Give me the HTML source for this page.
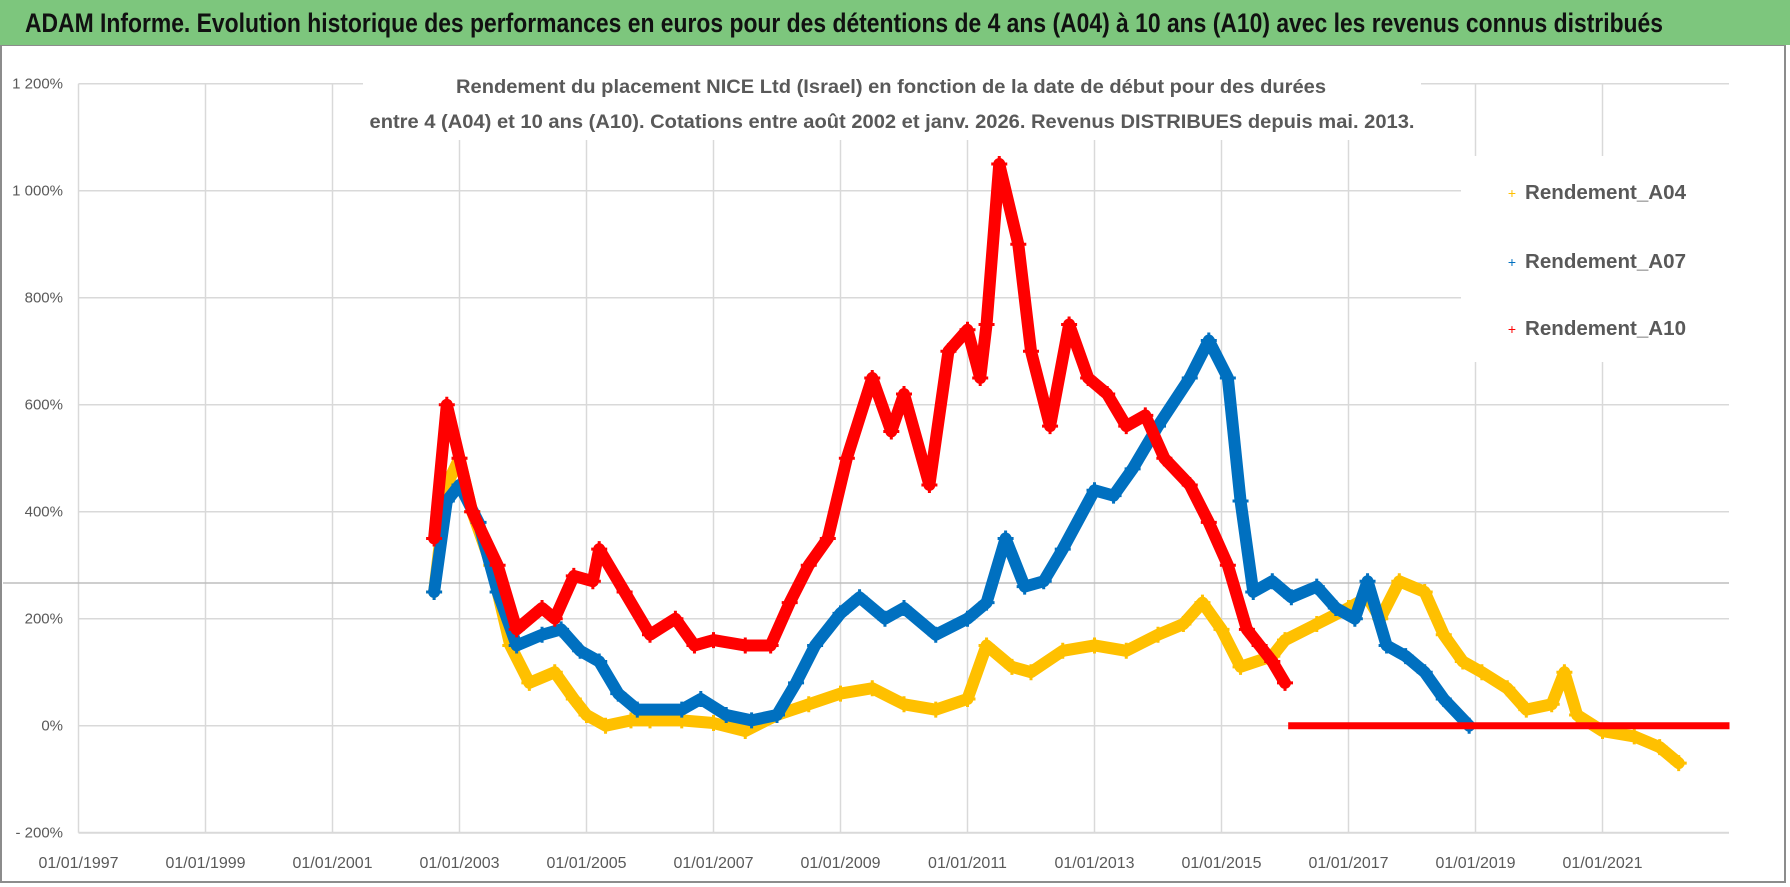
<!DOCTYPE html>
<html><head><meta charset="utf-8"><style>
html,body{margin:0;padding:0;background:#fff;}
svg{display:block;font-family:"Liberation Sans",sans-serif;}
</style></head><body>
<svg id="chart" width="1790" height="887" viewBox="0 0 1790 887" xmlns="http://www.w3.org/2000/svg">
<rect x="0" y="0" width="1790" height="887" fill="#fff"/>
<rect x="1" y="45" width="1784" height="837" fill="#fff" stroke="#8c8c8c" stroke-width="2"/>
<rect x="0" y="0" width="1790" height="45" fill="#7dc67d"/>
<text x="25" y="32" font-size="27" font-weight="bold" fill="#111" textLength="1638" lengthAdjust="spacingAndGlyphs">ADAM Informe. Evolution historique des performances en euros pour des détentions de 4 ans (A04) à 10 ans (A10) avec les revenus connus distribués</text>
<g id="grid"></g>
<line x1="3" y1="583" x2="1729" y2="583" stroke="#bdbdbd" stroke-width="1.5"/>
<g id="yticks"></g>
<g id="xticks"></g>
<rect x="363" y="70" width="1058" height="70" fill="#fff"/>
<text x="891" y="93" font-size="19" font-weight="bold" fill="#595959" text-anchor="middle" textLength="870" lengthAdjust="spacingAndGlyphs">Rendement du placement NICE Ltd (Israel) en fonction de la date de début pour des durées</text>
<text x="892" y="128" font-size="19" font-weight="bold" fill="#595959" text-anchor="middle" textLength="1045" lengthAdjust="spacingAndGlyphs">entre 4 (A04) et 10 ans (A10). Cotations entre août 2002 et janv. 2026. Revenus DISTRIBUES depuis mai. 2013.</text>
<g id="series"></g>
<rect x="1461" y="156" width="268" height="206" fill="#fff"/>
<g>
<text x="1512" y="198" font-size="14" fill="#ffc000" text-anchor="middle">+</text>
<text x="1525" y="199" font-size="20" font-weight="bold" fill="#595959" textLength="161" lengthAdjust="spacingAndGlyphs">Rendement_A04</text></g>
<g>
<text x="1512" y="267" font-size="14" fill="#0070c0" text-anchor="middle">+</text>
<text x="1525" y="268" font-size="20" font-weight="bold" fill="#595959" textLength="161" lengthAdjust="spacingAndGlyphs">Rendement_A07</text></g>
<g>
<text x="1512" y="334" font-size="14" fill="#ff0000" text-anchor="middle">+</text>
<text x="1525" y="335" font-size="20" font-weight="bold" fill="#595959" textLength="161" lengthAdjust="spacingAndGlyphs">Rendement_A10</text></g>
</svg>
<script>
const yTicks=[1200,1000,800,600,400,200,0,-200];
const yTickLabels=["1 200%","1 000%","800%","600%","400%","200%","0%","- 200%"];
const xTicks=[1997,1999,2001,2003,2005,2007,2009,2011,2013,2015,2017,2019,2021];
const xTickLabels=["01/01/1997","01/01/1999","01/01/2001","01/01/2003","01/01/2005","01/01/2007","01/01/2009","01/01/2011","01/01/2013","01/01/2015","01/01/2017","01/01/2019","01/01/2021"];
const a04Dates=[2002.6,2002.8,2003.0,2003.2,2003.5,2003.8,2004.1,2004.5,2004.8,2005.0,2005.3,2005.7,2006.0,2006.5,2007.0,2007.5,2008.0,2008.5,2009.0,2009.5,2010.0,2010.5,2011.0,2011.3,2011.7,2012.0,2012.5,2013.0,2013.5,2014.0,2014.4,2014.7,2015.0,2015.3,2015.8,2016.0,2016.5,2017.0,2017.3,2017.5,2017.8,2018.2,2018.5,2018.8,2019.1,2019.5,2019.8,2020.2,2020.4,2020.6,2021.0,2021.5,2021.9,2022.2];
const a04Values=[250,450,500,400,300,150,80,100,50,20,0,10,10,10,5,-10,20,40,60,70,40,30,50,150,110,100,140,150,140,170,190,230,180,110,130,160,190,220,240,200,270,250,170,120,100,70,30,40,100,20,-10,-20,-40,-70];
const a07Dates=[2002.6,2002.8,2003.0,2003.3,2003.6,2003.9,2004.3,2004.6,2004.9,2005.2,2005.5,2005.8,2006.5,2006.8,2007.2,2007.6,2008.0,2008.3,2008.6,2009.0,2009.3,2009.7,2010.0,2010.5,2011.0,2011.3,2011.6,2011.9,2012.2,2012.5,2013.0,2013.3,2013.6,2014.0,2014.5,2014.8,2015.1,2015.3,2015.5,2015.8,2016.1,2016.5,2016.8,2017.1,2017.3,2017.6,2017.9,2018.2,2018.5,2018.9];
const a07Values=[250,420,450,380,250,150,170,180,140,120,60,30,30,50,20,10,20,80,150,210,240,200,220,170,200,230,350,260,270,330,440,430,480,560,650,720,650,420,250,270,240,260,220,200,270,150,130,100,50,0];
const a10Dates=[2002.6,2002.8,2003.0,2003.2,2003.6,2003.9,2004.3,2004.5,2004.8,2005.1,2005.2,2005.6,2006.0,2006.4,2006.7,2007.0,2007.5,2007.9,2008.2,2008.5,2008.8,2009.1,2009.5,2009.8,2010.0,2010.4,2010.7,2011.0,2011.2,2011.3,2011.5,2011.8,2012.0,2012.3,2012.6,2012.9,2013.2,2013.5,2013.8,2014.1,2014.5,2014.8,2015.1,2015.4,2015.6,2015.8,2016.0];
const a10Values=[350,600,500,400,300,180,220,200,280,270,330,250,170,200,150,160,150,150,230,300,350,500,650,550,620,450,700,740,650,750,1050,900,700,560,750,650,620,560,580,500,450,380,300,180,150,120,80];
const a10FlatStart=[2016.05];
const a10FlatEnd=[2023.0];
const a10FlatValue=[0];

const X=y=>78.5+(y-1997)*63.5;
const Y=v=>725.7-v*107/200;
const NS="http://www.w3.org/2000/svg";
function mk(tag,attrs,parent){const e=document.createElementNS(NS,tag);for(const k in attrs)e.setAttribute(k,attrs[k]);parent.appendChild(e);return e;}
const grid=document.getElementById('grid');
yTicks.forEach((t,i)=>{
  const l=mk('line',{x1:78.5,x2:1729,y1:Y(t),y2:Y(t),stroke:'#d9d9d9','stroke-width':1.5},grid);
  
  
  const tx=mk('text',{x:63,y:Y(t)+5,'font-size':15,fill:'#595959','text-anchor':'end'},document.getElementById('yticks'));
  tx.textContent=yTickLabels[i];
  
  
});
xTicks.forEach((t,i)=>{
  const l=mk('line',{x1:X(t),x2:X(t),y1:Y(1200),y2:Y(-200),stroke:'#d9d9d9','stroke-width':1.5},grid);
  
  
  const tx=mk('text',{x:X(t),y:868,'font-size':16,fill:'#595959','text-anchor':'middle'},document.getElementById('xticks'));
  tx.textContent=xTickLabels[i];
  
  
});
mk('line',{x1:78.5,x2:1729,y1:Y(-200),y2:Y(-200),stroke:'#d9d9d9','stroke-width':2},grid);
const sg=document.getElementById('series');
function drawSeries(dates,vals,color,name){
  const g=mk('g',{},sg);
  
  
  const pts=dates.map((d,i)=>X(d)+','+Y(vals[i])).join(' ');
  mk('polyline',{points:pts,fill:'none',stroke:color,'stroke-width':12,'stroke-linejoin':'round','stroke-linecap':'round'},g);
  for(let i=0;i<dates.length;i++){
    const cx=X(dates[i]),cy=Y(vals[i]);
    const p=mk('path',{d:`M${cx-8},${cy}h16M${cx},${cy-8}v16`,stroke:color,'stroke-width':3},g);
    
    
  }
}
drawSeries(a04Dates,a04Values,'#ffc000','series-a04');
drawSeries(a07Dates,a07Values,'#0070c0','series-a07');
drawSeries(a10Dates,a10Values,'#ff0000','series-a10');
const flat=mk('line',{x1:X(a10FlatStart[0]),x2:X(a10FlatEnd[0]),y1:Y(a10FlatValue[0]),y2:Y(a10FlatValue[0]),stroke:'#ff0000','stroke-width':7},sg);


</script>
</body></html>
